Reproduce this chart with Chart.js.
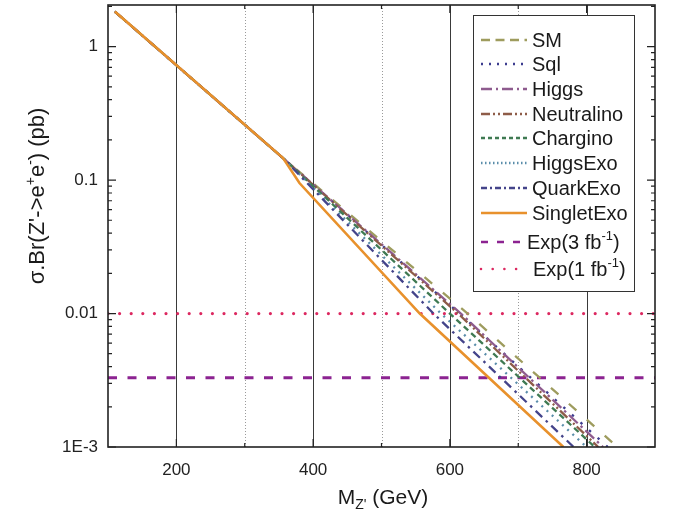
<!DOCTYPE html>
<html><head><meta charset="utf-8">
<script src="https://cdn.jsdelivr.net/npm/chart.js@4.4.1/dist/chart.umd.min.js"></script>
<style>html,body{margin:0;padding:0;background:#fff;}canvas{display:block;}</style>
</head><body>
<canvas id="c" width="679" height="516"></canvas>
<script>
// ---- data ----
const seriesNames = ['SM','Sql','Higgs','Neutralino','Chargino','HiggsExo','QuarkExo','SingletExo'];
const massSM = [110, 356, 626, 845];          const xsecSM = [1.83, 0.146, 0.01, 0.001];
const massSql = [110, 356, 614, 831];         const xsecSql = [1.83, 0.146, 0.01, 0.001];
const massHiggs = [110, 356, 616, 824];       const xsecHiggs = [1.83, 0.146, 0.01, 0.001];
const massNeutralino = [110, 356, 612, 817];  const xsecNeutralino = [1.83, 0.146, 0.01, 0.001];
const massChargino = [110, 356, 600, 812];    const xsecChargino = [1.83, 0.146, 0.01, 0.001];
const massHiggsExo = [110, 356, 587, 800];    const xsecHiggsExo = [1.83, 0.146, 0.01, 0.001];
const massQuarkExo = [110, 356, 576, 781];    const xsecQuarkExo = [1.83, 0.146, 0.01, 0.001];
const massSingletExo = [110, 356, 380, 556, 766]; const xsecSingletExo = [1.83, 0.146, 0.095, 0.01, 0.001];
const expMass = [100, 900];
const exp3fb = [0.0033, 0.0033];
const exp1fb = [0.01, 0.01];
const xTickValues = [200, 400, 600, 800];
const xTickLabels = ['200', '400', '600', '800'];
const xMinorValues = [300, 500, 700];
const yTickValues = [0.001, 0.01, 0.1, 1];
const yTickLabels = ['1E-3', '0.01', '0.1', '1'];

const seriesMass = {SM:massSM, Sql:massSql, Higgs:massHiggs, Neutralino:massNeutralino, Chargino:massChargino, HiggsExo:massHiggsExo, QuarkExo:massQuarkExo, SingletExo:massSingletExo};
const seriesXsec = {SM:xsecSM, Sql:xsecSql, Higgs:xsecHiggs, Neutralino:xsecNeutralino, Chargino:xsecChargino, HiggsExo:xsecHiggsExo, QuarkExo:xsecQuarkExo, SingletExo:xsecSingletExo};

// ---- styles ----
const FONT = '"Liberation Sans", Arial, sans-serif';
const styles = {
  SM:         {color:'#9E9C5E', dash:[10,14],          legendDash:[9,5.5],         width:2.3, order:7},
  Sql:        {color:'#3D3D8F', dash:[2.5,9],          legendDash:[2,6],           width:2.3, order:6},
  Higgs:      {color:'#8E5B8E', dash:[12,4,2.5,4],     legendDash:[11,4,2,4],      width:2.3, order:5},
  Neutralino: {color:'#8E5C48', dash:[10,3,2,3,2,3],   legendDash:[9,3,2,3,2,3],   width:2.3, order:4},
  Chargino:   {color:'#3F7A52', dash:[6,4],            legendDash:[4,3],           width:2.3, order:3},
  HiggsExo:   {color:'#5A8DAA', dash:[2,5],            legendDash:[1.5,2.5],       width:2.3, order:2},
  QuarkExo:   {color:'#44448A', dash:[9,5,2.5,5],      legendDash:[6,3,2,3],       width:2.3, order:1},
  SingletExo: {color:'#E8912C', dash:[],               legendDash:[],              width:2.6, order:0},
  Exp3:       {color:'#8C2391', dash:[9,10.5],         legendDash:[7,9],           width:3,   order:9},
  Exp1:       {color:'#DC2860', dash:[0,11.6],         legendDash:[0,11.7],        width:3.2, order:8, cap:'round'}
};

function toPoints(xs, ys){ return xs.map((x,i)=>({x:x, y:ys[i]})); }

const datasets = seriesNames.map(n => ({
  label:n, data:toPoints(seriesMass[n], seriesXsec[n]),
  borderColor:styles[n].color, borderWidth:styles[n].width, borderDash:styles[n].dash,
  pointRadius:0, fill:false, tension:0, order:styles[n].order
}));
datasets.push({label:'Exp3', data:toPoints(expMass, exp3fb), borderColor:styles.Exp3.color, borderWidth:styles.Exp3.width, borderDash:styles.Exp3.dash, pointRadius:0, fill:false, order:styles.Exp3.order});
datasets.push({label:'Exp1', data:toPoints(expMass, exp1fb), borderColor:styles.Exp1.color, borderWidth:styles.Exp1.width, borderDash:styles.Exp1.dash, borderCapStyle:'round', pointRadius:0, fill:false, order:styles.Exp1.order});

function drawRich(ctx, parts, x, y, align){
  let w = 0;
  parts.forEach(p => { ctx.font = p.f + 'px ' + FONT; p.w = ctx.measureText(p.t).width; w += p.w; });
  let cx = align === 'center' ? x - w/2 : (align === 'right' ? x - w : x);
  ctx.textAlign = 'left'; ctx.textBaseline = 'alphabetic';
  parts.forEach(p => { ctx.font = p.f + 'px ' + FONT; ctx.fillText(p.t, cx, y + (p.dy || 0)); cx += p.w; });
}

const legendItems = [
  {key:'SM', parts:[{t:'SM', f:20}]},
  {key:'Sql', parts:[{t:'Sql', f:20}]},
  {key:'Higgs', parts:[{t:'Higgs', f:20}]},
  {key:'Neutralino', parts:[{t:'Neutralino', f:20}]},
  {key:'Chargino', parts:[{t:'Chargino', f:20}]},
  {key:'HiggsExo', parts:[{t:'HiggsExo', f:20}]},
  {key:'QuarkExo', parts:[{t:'QuarkExo', f:20}]},
  {key:'SingletExo', parts:[{t:'SingletExo', f:20}]},
  {key:'Exp3', parts:[{t:'Exp(3 fb', f:20}, {t:'-1', f:13, dy:-9}, {t:')', f:20}], tx:527},
  {key:'Exp1', parts:[{t:'Exp(1 fb', f:20}, {t:'-1', f:13, dy:-9}, {t:')', f:20}], tx:533}
];
const legendRowY = [40, 64, 89, 114, 138, 163, 188, 213, 242, 269];

const decor = {
  id:'decor',
  beforeDatasetsDraw(chart){
    const ctx = chart.ctx, a = chart.chartArea, xs = chart.scales.x;
    ctx.save();
    ctx.lineWidth = 1;
    xTickValues.forEach(v => {
      const px = Math.round(xs.getPixelForValue(v)) + 0.5;
      ctx.strokeStyle = '#3a3a3a'; ctx.setLineDash([]);
      ctx.beginPath(); ctx.moveTo(px, a.top); ctx.lineTo(px, a.bottom); ctx.stroke();
    });
    xMinorValues.forEach(v => {
      const px = Math.round(xs.getPixelForValue(v)) + 0.5;
      ctx.strokeStyle = '#9a9a9a'; ctx.setLineDash([1,2]);
      ctx.beginPath(); ctx.moveTo(px, a.top); ctx.lineTo(px, a.bottom); ctx.stroke();
    });
    ctx.restore();
  },
  afterDatasetsDraw(chart){
    const ctx = chart.ctx, a = chart.chartArea, xs = chart.scales.x, ys = chart.scales.y;
    ctx.save();
    ctx.setLineDash([]);
    ctx.strokeStyle = '#222'; ctx.lineWidth = 1.2;
    // ticks
    ctx.beginPath();
    xTickValues.forEach(v => { const px = xs.getPixelForValue(v);
      ctx.moveTo(px, a.bottom); ctx.lineTo(px, a.bottom - 8); ctx.moveTo(px, a.top); ctx.lineTo(px, a.top + 8); });
    xMinorValues.forEach(v => { const px = xs.getPixelForValue(v);
      ctx.moveTo(px, a.bottom); ctx.lineTo(px, a.bottom - 4); ctx.moveTo(px, a.top); ctx.lineTo(px, a.top + 4); });
    const minL = Math.log10(ys.min), maxL = Math.log10(ys.max);
    for (let e = Math.floor(minL); e <= Math.ceil(maxL); e++) {
      for (let m = 1; m <= 9; m++) {
        const v = m * Math.pow(10, e);
        if (v < ys.min * 0.999 || v > ys.max) continue;
        const py = ys.getPixelForValue(v);
        const len = (m === 1) ? 8 : 4;
        ctx.moveTo(a.left, py); ctx.lineTo(a.left + len, py);
        ctx.moveTo(a.right, py); ctx.lineTo(a.right - len, py);
      }
    }
    ctx.stroke();
    // frame
    ctx.lineWidth = 1.6; ctx.strokeStyle = '#222';
    ctx.strokeRect(a.left, a.top, a.right - a.left, a.bottom - a.top);

    // legend box
    const bx = 473, by = 15, bw = 161, bh = 276;
    ctx.fillStyle = '#fff'; ctx.fillRect(bx, by, bw, bh);
    ctx.lineWidth = 1; ctx.strokeStyle = '#333';
    ctx.strokeRect(bx + 0.5, by + 0.5, bw, bh);
    legendItems.forEach((it, i) => {
      const st = styles[it.key], yy = legendRowY[i];
      ctx.save();
      ctx.strokeStyle = st.color; ctx.lineWidth = Math.min(st.width, 2.6);
      ctx.setLineDash(st.legendDash); ctx.lineCap = st.cap || 'butt';
      ctx.beginPath(); ctx.moveTo(481, yy); ctx.lineTo(527, yy); ctx.stroke();
      ctx.restore();
      ctx.fillStyle = '#1a1a1a';
      drawRich(ctx, it.parts, it.tx || 532, yy + 7, 'left');
    });

    // axis titles
    ctx.fillStyle = '#1a1a1a';
    drawRich(ctx, [{t:'M', f:21}, {t:"Z'", f:14, dy:5}, {t:' (GeV)', f:21}], 383, 504, 'center');
    ctx.save();
    ctx.translate(44, 196); ctx.rotate(-Math.PI / 2);
    drawRich(ctx, [{t:"σ.Br(Z'->e", f:22}, {t:'+', f:14, dy:-9}, {t:'e', f:22}, {t:'-', f:14, dy:-9}, {t:') (pb)', f:22}], 0, 0, 'center');
    ctx.restore();
    ctx.restore();
  }
};

new Chart(document.getElementById('c').getContext('2d'), {
  type:'line',
  data:{datasets:datasets},
  options:{
    responsive:false, animation:false, devicePixelRatio:1,
    layout:{padding:{top:5, right:24, left:0, bottom:0}},
    scales:{
      x:{type:'linear', min:100, max:900,
        grid:{display:false, drawTicks:false}, border:{display:false},
        afterBuildTicks:s => { s.ticks = xTickValues.map(v => ({value:v})); },
        afterFit:s => { s.height = 69; s.paddingLeft = 0; s.paddingRight = 0; },
        ticks:{padding:13, color:'#222', font:{family:FONT, size:17}, maxRotation:0, autoSkip:false,
          callback:v => { const i = xTickValues.indexOf(v); return i >= 0 ? xTickLabels[i] : ''; }}
      },
      y:{type:'logarithmic', min:0.001, max:2.05,
        grid:{display:false, drawTicks:false}, border:{display:false},
        afterBuildTicks:s => { s.ticks = yTickValues.map(v => ({value:v})); },
        afterFit:s => { s.width = 108; s.paddingTop = 0; s.paddingBottom = 0; },
        ticks:{padding:10, color:'#222', font:{family:FONT, size:17}, autoSkip:false,
          callback:v => { const i = yTickValues.findIndex(t => Math.abs(t - v) < t * 1e-6); return i >= 0 ? yTickLabels[i] : ''; }}
      }
    },
    plugins:{legend:{display:false}, tooltip:{enabled:false}}
  },
  plugins:[decor]
});
</script>
</body></html>
